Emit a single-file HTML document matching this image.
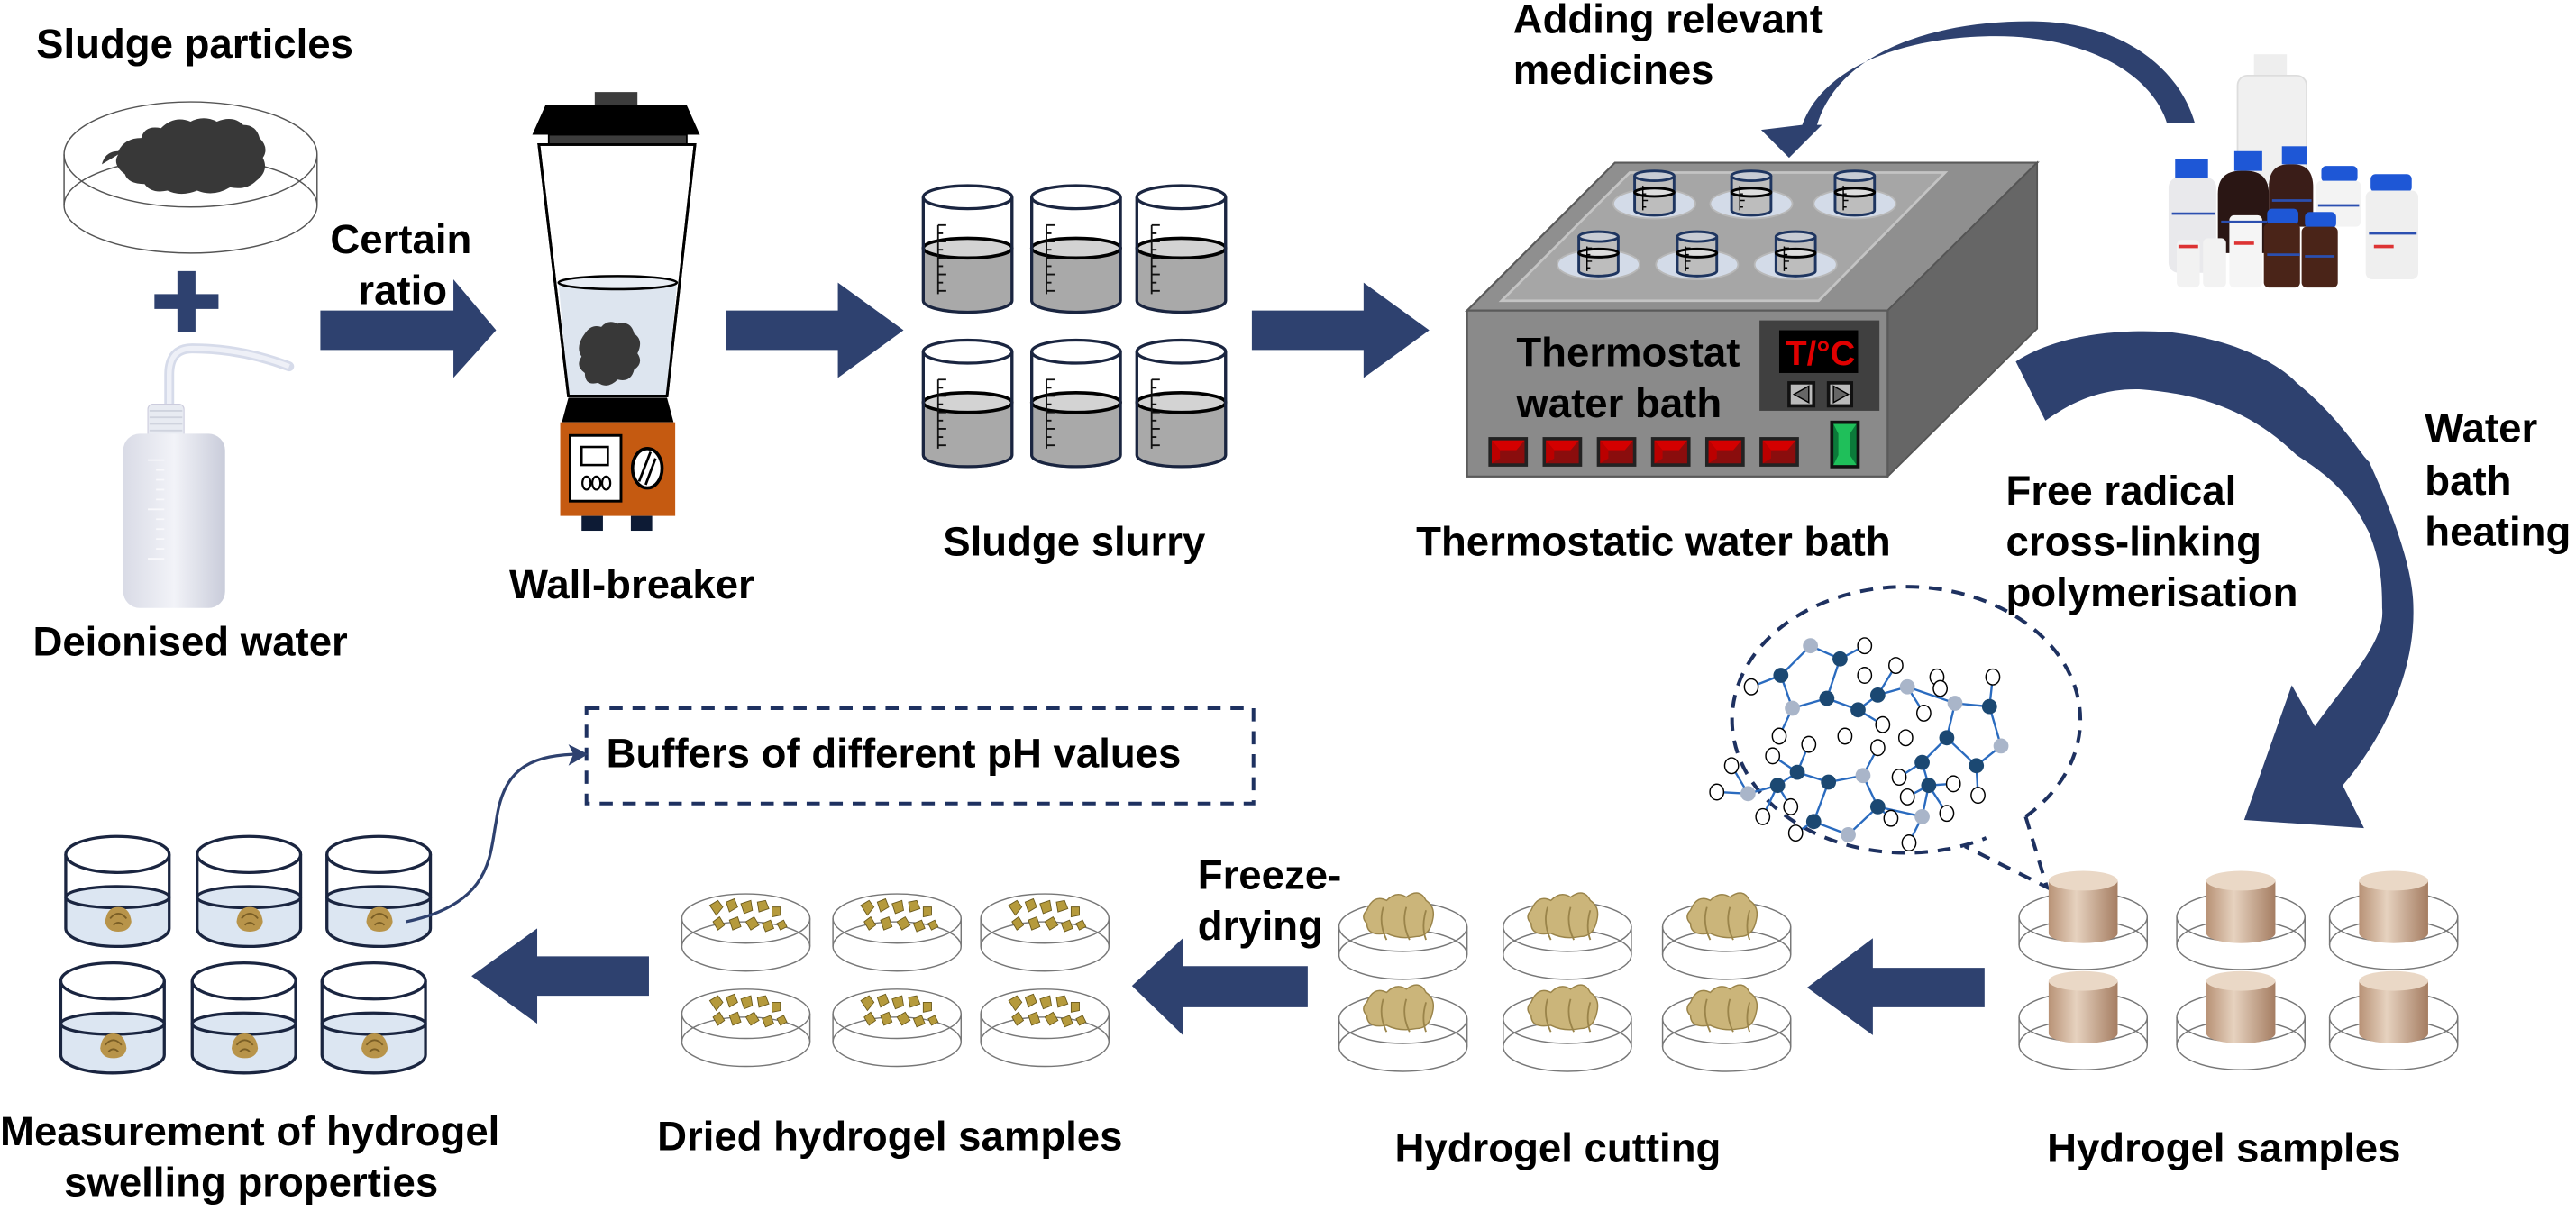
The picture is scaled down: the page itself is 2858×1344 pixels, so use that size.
<!DOCTYPE html>
<html><head><meta charset="utf-8"><style>
html,body{margin:0;padding:0;background:#fff;}
svg{display:block;}
text{font-family:"Liberation Sans",Arial,sans-serif;font-weight:bold;font-size:25px;fill:#000;}
</style></head><body>
<svg width="2858" height="1344" viewBox="0 0 1568 737" preserveAspectRatio="none" xmlns="http://www.w3.org/2000/svg">
<defs>
<linearGradient id="cyl" x1="0" x2="1"><stop offset="0" stop-color="#b89276"/><stop offset="0.4" stop-color="#e6d2bf"/><stop offset="1" stop-color="#a57d62"/></linearGradient>
<linearGradient id="bot" x1="0" x2="1"><stop offset="0" stop-color="#d9dbe6"/><stop offset="0.5" stop-color="#f2f3f8"/><stop offset="1" stop-color="#c9ccda"/></linearGradient>
<!-- slurry beaker 54x77 -->
<g id="sb">
<path d="M0 7 V70 A27 7 0 0 0 54 70 V7" fill="#fff" stroke="#1a2540" stroke-width="1.6"/>
<path d="M0 38 V70 A27 7 0 0 0 54 70 V38 Z" fill="#a9a9a9"/>
<ellipse cx="27" cy="38" rx="27" ry="6" fill="#d3d3d3" stroke="#000" stroke-width="2"/>
<path d="M0 7 V70 A27 7 0 0 0 54 70 V7" fill="none" stroke="#1a2540" stroke-width="1.8"/>
<ellipse cx="27" cy="7" rx="27" ry="7" fill="none" stroke="#1a2540" stroke-width="1.8"/>
<path d="M9 24h5M9 29h3M9 34h5M9 39h3M9 44h5M9 49h3M9 54h5M9 59h3M9 64h5M9 24V66" stroke="#111" stroke-width="1"/>
</g>
<!-- swelling beaker 63x67 -->
<g id="wb">
<path d="M0 37 V56 A31.5 11 0 0 0 63 56 V37 Z" fill="#dce6f2"/>
<ellipse cx="31.5" cy="37" rx="31.5" ry="6.5" fill="#dce6f2" stroke="#1a2540" stroke-width="1.8"/>
<path d="M0 11 V56 A31.5 11 0 0 0 63 56 V11" fill="none" stroke="#1a2540" stroke-width="1.8"/>
<ellipse cx="31.5" cy="11" rx="31.5" ry="11" fill="none" stroke="#1a2540" stroke-width="1.8"/>
<path d="M24 52 q1 -9 8 -9 q7 0 8 9 q-1 6 -8 6 q-7 0 -8 -6z" fill="#b8944a"/>
<path d="M27 50 q5 -6 10 0 M29 54 q3-3 6 0" stroke="#7a5e25" fill="none" stroke-width="1"/>
</g>
<!-- dish: origin = top ellipse center -->
<g id="dish" fill="none" stroke="#777" stroke-width="0.8">
<ellipse cx="0" cy="17" rx="39" ry="15"/>
<ellipse cx="0" cy="0" rx="39" ry="15"/>
<path d="M-39 0V17M39 0V17"/>
</g>
<g id="dried">
<use href="#dish"/>
<g fill="#b59a3c" stroke="#6b5a1c" stroke-width="0.5">
<path d="M-22 -8l5 -3 3 4 -4 5z"/><path d="M-12 -10l5 -2 2 5 -5 3z"/><path d="M-3 -9l6 -2 1 6 -5 2z"/><path d="M7 -10l5 -1 2 5 -6 2z"/><path d="M16 -7l5 0 0 5 -5 1z"/>
<path d="M-20 2l4 -3 3 5 -4 3z"/><path d="M-10 1l5 -2 2 6 -5 2z"/><path d="M0 2l5 -3 3 5 -5 3z"/><path d="M10 3l5 -2 2 5 -5 2z"/><path d="M19 3l4 -2 2 4 -4 2z"/>
</g>
</g>
<g id="cut">
<use href="#dish"/>
<path d="M-22 -10 q4 -10 12 -6 q6 -6 12 -2 q8 -6 12 2 q6 4 4 12 q-2 10 -10 10 q-10 2 -18 -2 q-12 2 -12 -6 q-4 -4 0 -8z" fill="#cbb57a" stroke="#9a844a" stroke-width="0.8"/>
<path d="M-12 -12 q-3 10 2 20 M2 -12 q-3 10 2 20 M14 -10 q-3 10 0 18" stroke="#9a844a" fill="none" stroke-width="1"/>
</g>
<g id="gel">
<use href="#dish"/>
<path d="M-21 -22 V10 A21 6 0 0 0 21 10 V-22 Z" fill="url(#cyl)"/>
<ellipse cx="0" cy="-22" rx="21" ry="6" fill="#ead8c6"/>
</g>
<!-- small beaker on bath -->
<g id="tb">
<ellipse cx="0" cy="20" rx="25" ry="9" fill="#d3dbe8" stroke="#b8b8b8" stroke-width="1"/>
<path d="M-12 3V24A12 3 0 0 0 12 24V3" fill="#bdbdbd" stroke="#1e3560" stroke-width="1.6"/>
<ellipse cx="0" cy="3" rx="12" ry="3" fill="#c8ccd4" stroke="#1e3560" stroke-width="1.6"/>
<ellipse cx="0" cy="13" rx="12" ry="2.5" fill="#ddd" stroke="#000" stroke-width="1.6"/>
<path d="M-7 9V24M-7 10h3M-7 14h2M-7 18h3M-7 22h2" stroke="#000" stroke-width="0.8"/>
</g>
<g id="rb">
<rect x="0" y="0" width="24" height="18" fill="#222"/>
<rect x="2" y="2" width="20" height="14" fill="#8a0d0d"/>
<path d="M2 2h20l-5 6h-10z" fill="#d40000"/>
<path d="M2 2l5 6v5l-5 3z" fill="#b00"/>
</g>
<g id="n"><circle r="4.6" fill="#1b4872"/></g>
<g id="l"><circle r="4.6" fill="#a9b5c9"/></g>
<g id="w"><ellipse rx="4.2" ry="4.8" fill="#fff" stroke="#000" stroke-width="0.8"/></g>
</defs>

<!-- ===== Top row ===== -->
<text x="22" y="35">Sludge particles</text>
<!-- dish with sludge -->
<g fill="none" stroke="#555" stroke-width="0.8">
<ellipse cx="116" cy="125" rx="77" ry="29"/>
<path d="M39 94V125M193 94V125"/>
</g>
<path d="M62 100 q2-8 10-8 q4-8 14-8 q2-8 12-6 q8-8 18-4 q8-4 16 0 q10-4 16 2 q8 0 10 8 q6 6 2 12 q4 8-4 14 q-6 6-16 4 q-10 6-20 2 q-10 4-18 0 q-10 2-14-4 q-10 0-12-6 q-8 -6 -4-12z" fill="#383838"/>
<ellipse cx="116" cy="94" rx="77" ry="32" fill="none" stroke="#555" stroke-width="0.8"/>
<path d="M108 165h11v37h-11z M94 179h39v9h-39z" fill="#2e416f"/>
<!-- wash bottle -->
<path d="M103 252 V228 q0-16 14-16 q30 0 59 11" fill="none" stroke="#d6dbea" stroke-width="6" stroke-linecap="round"/>
<path d="M103 252 V228 q0-16 14-16 q30 0 59 11" fill="none" stroke="#eef0f7" stroke-width="3"/>
<rect x="90" y="246" width="22" height="22" rx="3" fill="#e8ebf2" stroke="#ccd" stroke-width="0.6"/>
<path d="M91 250h20M91 254h20M91 258h20M91 262h20" stroke="#cfd3de" stroke-width="1"/>
<rect x="75" y="264" width="62" height="106" rx="10" fill="url(#bot)"/>
<path d="M90 280h10M95 286h5M95 292h5M95 298h5M95 304h5M90 310h10M95 316h5M95 322h5M95 328h5M95 334h5M90 340h10" stroke="#f8f8fb" stroke-width="1"/>
<text x="20" y="399">Deionised water</text>

<!-- certain ratio + arrow1 -->
<text x="201" y="154">Certain</text>
<text x="218" y="185">ratio</text>
<path d="M195 189H276V170L302 201L276 230V213H195Z" fill="#2e416f"/>

<!-- blender -->
<rect x="362" y="56" width="26" height="9" fill="#3c3c3c"/>
<path d="M332 64H418L426 82H324Z" fill="#000"/>
<rect x="334" y="82" width="84" height="6" fill="#3c3c3c" stroke="#000" stroke-width="1"/>
<path d="M328 88H423L406 241H346Z" fill="#fff" stroke="#000" stroke-width="1.6"/>
<path d="M340 172H412L406 241H346Z" fill="#dde5ef"/>
<ellipse cx="376" cy="172" rx="36" ry="4" fill="#e8edf4" stroke="#000" stroke-width="1.4"/>
<path d="M328 88H423L406 241H346Z" fill="none" stroke="#000" stroke-width="1.6"/>
<path d="M356 203 q4-6 10-4 q4-5 10-2 q8-2 10 6 q6 4 2 12 q4 6-2 10 q-2 8-10 6 q-6 6-12 2 q-8 2-8-6 q-6-4-2-10 q-4-6 2-14z" fill="#383838"/>
<path d="M346 242H406L410 257H342Z" fill="#000"/>
<rect x="341" y="257" width="70" height="57" fill="#c55a11"/>
<rect x="347" y="265" width="31" height="40" fill="#fff" stroke="#000" stroke-width="1.6"/>
<rect x="354" y="272" width="16" height="11" fill="#fff" stroke="#000" stroke-width="1.4"/>
<ellipse cx="357" cy="294" rx="2.5" ry="4" fill="none" stroke="#000" stroke-width="1.2"/>
<ellipse cx="363" cy="294" rx="2.5" ry="4" fill="none" stroke="#000" stroke-width="1.2"/>
<ellipse cx="369" cy="294" rx="2.5" ry="4" fill="none" stroke="#000" stroke-width="1.2"/>
<ellipse cx="394" cy="285" rx="9" ry="12" fill="#fff" stroke="#000" stroke-width="2"/>
<path d="M389 293L396 275M393 295L399 279" stroke="#000" stroke-width="1.5"/>
<rect x="354" y="314" width="13" height="9" fill="#0d1b35"/>
<rect x="384" y="314" width="13" height="9" fill="#0d1b35"/>
<text x="310" y="364">Wall-breaker</text>

<!-- arrow2 -->
<path d="M442 189H510V172L550 201L510 230V213H442Z" fill="#2e416f"/>
<!-- slurry beakers -->
<use href="#sb" x="562" y="113"/><use href="#sb" x="628" y="113"/><use href="#sb" x="692" y="113"/>
<use href="#sb" x="562" y="207"/><use href="#sb" x="628" y="207"/><use href="#sb" x="692" y="207"/>
<text x="574" y="338">Sludge slurry</text>
<!-- arrow3 -->
<path d="M762 189H830V172L870 201L830 230V213H762Z" fill="#2e416f"/>

<!-- water bath -->
<path d="M893 189L983 99H1240L1149 189Z" fill="#8f8f8f" stroke="#5a5a5a" stroke-width="1.2"/>
<path d="M992 105H1184L1107 183H914Z" fill="#a6a6a6" stroke="#c4c4c4" stroke-width="1.5"/>
<path d="M1149 189L1240 99V200L1149 290Z" fill="#666" stroke="#555" stroke-width="1"/>
<rect x="893" y="189" width="256" height="101" fill="#8a8a8a" stroke="#5a5a5a" stroke-width="1.2"/>
<use href="#tb" x="1007" y="104"/><use href="#tb" x="1066" y="104"/><use href="#tb" x="1129" y="104"/>
<use href="#tb" x="973" y="141"/><use href="#tb" x="1033" y="141"/><use href="#tb" x="1093" y="141"/>
<text x="923" y="223">Thermostat</text>
<text x="923" y="254">water bath</text>
<rect x="1071" y="195" width="73" height="55" fill="#404040"/>
<rect x="1083" y="201" width="48" height="26" fill="#000"/>
<text x="1087" y="222" style="fill:#e00000;font-size:21px">T/°C</text>
<rect x="1088" y="232" width="17" height="16" fill="#111"/><rect x="1090" y="234" width="13" height="12" fill="#bbb"/>
<path d="M1101 235L1092 240L1101 245Z" fill="#666" stroke="#000" stroke-width="0.8"/>
<rect x="1112" y="232" width="16" height="16" fill="#111"/><rect x="1114" y="234" width="12" height="12" fill="#bbb"/>
<path d="M1116 235L1125 240L1116 245Z" fill="#666" stroke="#000" stroke-width="0.8"/>
<use href="#rb" x="906" y="266"/><use href="#rb" x="939" y="266"/><use href="#rb" x="972" y="266"/>
<use href="#rb" x="1005" y="266"/><use href="#rb" x="1038" y="266"/><use href="#rb" x="1071" y="266"/>
<rect x="1114" y="256" width="18" height="29" fill="#111"/>
<rect x="1116" y="258" width="14" height="25" fill="#0b7a3a"/>
<path d="M1116 258h14l-4 6v13l4 6h-14l3-6v-13z" fill="#1fbf5a"/>
<text x="862" y="338">Thermostatic water bath</text>

<text x="921" y="20">Adding relevant</text>
<text x="921" y="51">medicines</text>
<!-- medicine arrow -->
<path d="M1336 75 C1326 40 1290 14 1240 13 C1180 12 1120 30 1106 76 L1109 76 L1089 96 L1072 79 L1097 76 C1110 40 1160 22 1215 22 C1270 22 1310 45 1319 75 Z" fill="#2e416f"/>

<!-- bottles -->
<g>
<rect x="1372" y="33" width="20" height="14" fill="#eee"/>
<rect x="1362" y="46" width="42" height="66" rx="6" fill="#f0f0f0" stroke="#ddd"/>
<rect x="1324" y="97" width="20" height="12" fill="#1e57d6"/>
<rect x="1320" y="108" width="29" height="58" rx="6" fill="#e9e9ec"/>
<rect x="1360" y="92" width="17" height="12" fill="#1e57d6"/>
<path d="M1350 118q0-14 14-14h3q14 0 14 14v36h-31z" fill="#2a1614"/>
<rect x="1389" y="89" width="15" height="11" fill="#1e57d6"/>
<path d="M1381 114q0-14 12-14h3q12 0 12 14v24h-27z" fill="#3a1d18"/>
<rect x="1413" y="101" width="22" height="10" rx="3" fill="#1e57d6"/>
<rect x="1410" y="110" width="27" height="28" rx="3" fill="#f3f3f3"/>
<rect x="1443" y="106" width="25" height="11" rx="3" fill="#1e57d6"/>
<rect x="1440" y="116" width="32" height="54" rx="4" fill="#efefef"/>
<rect x="1325" y="146" width="14" height="29" rx="3" fill="#f2f2f2"/>
<rect x="1341" y="145" width="14" height="30" rx="3" fill="#f2f2f2"/>
<rect x="1357" y="131" width="20" height="44" rx="3" fill="#f5f5f5"/>
<rect x="1380" y="127" width="19" height="10" rx="3" fill="#1e57d6"/>
<rect x="1378" y="136" width="22" height="39" rx="3" fill="#4a2418"/>
<rect x="1403" y="129" width="19" height="10" rx="3" fill="#1e57d6"/>
<rect x="1401" y="138" width="22" height="37" rx="3" fill="#4a2418"/>
<path d="M1322 130h26M1352 135h28M1383 122h24M1411 125h25M1442 142h29M1380 155h20M1403 156h18" stroke="#2b4fb0" stroke-width="1.5"/>
<path d="M1326 150h12M1360 148h12M1445 150h12" stroke="#d33" stroke-width="2"/>
</g>

<!-- big curved arrow -->
<path d="M1227 220 C1250 205 1285 200 1319 202 C1360 206 1388 222 1398 233 C1425 255 1438 278 1442 281 C1460 320 1469 350 1469 370 C1470 410 1450 450 1426 478 L1439 504 L1366 499 L1395 417 L1409 442 C1432 410 1452 390 1450 370 C1450 350 1448 340 1442 324 C1430 300 1418 290 1398 277 C1370 250 1340 240 1304 237 C1280 236 1262 244 1245 256 Z" fill="#2e416f"/>
<text x="1476" y="269">Water</text>
<text x="1476" y="301">bath</text>
<text x="1476" y="332">heating</text>
<text x="1221" y="307">Free radical</text>
<text x="1221" y="338">cross-linking</text>
<text x="1221" y="369">polymerisation</text>

<!-- ===== Bottom row ===== -->
<!-- bubble -->
<path d="M1233 497 A106 81 0 1 0 1209 510" fill="none" stroke="#1e3160" stroke-width="2.2" stroke-dasharray="8 6"/>
<path d="M1233 497 L1246 540 L1196 515" fill="none" stroke="#1e3160" stroke-width="2.2" stroke-dasharray="8 6"/>
<g stroke="#2a6bbf" stroke-width="1.3" fill="none">
<path d="M1102 393L1120 401L1112 425L1091 431L1084 411L1102 393M1084 411L1066 418M1120 401L1135 393M1112 425L1131 432L1143 423L1161 418L1190 428L1211 430L1218 454L1203 466L1185 449L1190 428M1131 432L1146 441M1143 423L1154 405M1161 418L1171 434M1185 449L1170 464L1174 478L1161 485M1170 464L1156 473M1203 466L1204 484M1211 430L1213 412M1091 431L1083 448M1094 470L1113 476L1134 472L1143 455M1094 470L1082 478L1064 483L1045 482M1064 483L1054 466M1094 470L1079 460M1082 478L1073 497M1082 478L1090 491M1113 476L1104 500L1125 508L1143 491L1134 472M1104 500L1093 507M1143 491L1151 498M1143 491L1170 497L1174 478L1189 477M1170 497L1162 513M1174 478L1185 495M1094 470L1101 453"/>
</g>
<use href="#w" x="1135" y="393"/><use href="#w" x="1154" y="405"/><use href="#w" x="1066" y="418"/><use href="#w" x="1135" y="411"/><use href="#w" x="1179" y="412"/><use href="#w" x="1213" y="412"/><use href="#w" x="1181" y="419"/><use href="#w" x="1171" y="434"/><use href="#w" x="1146" y="441"/><use href="#w" x="1083" y="448"/><use href="#w" x="1123" y="448"/><use href="#w" x="1160" y="449"/><use href="#w" x="1101" y="453"/><use href="#w" x="1143" y="455"/><use href="#w" x="1079" y="460"/><use href="#w" x="1054" y="466"/><use href="#w" x="1156" y="473"/><use href="#w" x="1189" y="477"/><use href="#w" x="1045" y="482"/><use href="#w" x="1204" y="484"/><use href="#w" x="1090" y="491"/><use href="#w" x="1161" y="485"/><use href="#w" x="1073" y="497"/><use href="#w" x="1185" y="495"/><use href="#w" x="1151" y="498"/><use href="#w" x="1093" y="507"/><use href="#w" x="1162" y="513"/>
<use href="#l" x="1102" y="393"/><use href="#l" x="1091" y="431"/><use href="#l" x="1161" y="418"/><use href="#l" x="1190" y="428"/><use href="#l" x="1218" y="454"/><use href="#l" x="1134" y="472"/><use href="#l" x="1064" y="483"/><use href="#l" x="1170" y="497"/><use href="#l" x="1125" y="508"/>
<use href="#n" x="1084" y="411"/><use href="#n" x="1120" y="401"/><use href="#n" x="1112" y="425"/><use href="#n" x="1143" y="423"/><use href="#n" x="1131" y="432"/><use href="#n" x="1211" y="430"/><use href="#n" x="1185" y="449"/><use href="#n" x="1170" y="464"/><use href="#n" x="1203" y="466"/><use href="#n" x="1094" y="470"/><use href="#n" x="1113" y="476"/><use href="#n" x="1082" y="478"/><use href="#n" x="1174" y="478"/><use href="#n" x="1143" y="491"/><use href="#n" x="1104" y="500"/>

<!-- hydrogel samples -->
<use href="#gel" x="1268" y="558"/><use href="#gel" x="1364" y="558"/><use href="#gel" x="1457" y="558"/>
<use href="#gel" x="1268" y="619"/><use href="#gel" x="1364" y="619"/><use href="#gel" x="1457" y="619"/>
<text x="1246" y="707">Hydrogel samples</text>
<!-- arrow -->
<path d="M1208 589H1140V571L1100 601L1140 630V613H1208Z" fill="#2e416f"/>
<!-- cut -->
<use href="#cut" x="854" y="564"/><use href="#cut" x="954" y="564"/><use href="#cut" x="1051" y="564"/>
<use href="#cut" x="854" y="620"/><use href="#cut" x="954" y="620"/><use href="#cut" x="1051" y="620"/>
<text x="849" y="707">Hydrogel cutting</text>
<text x="729" y="541">Freeze-</text>
<text x="729" y="572">drying</text>
<path d="M796 588H720V571L689 600L720 630V613H796Z" fill="#2e416f"/>
<!-- dried -->
<use href="#dried" x="454" y="559"/><use href="#dried" x="546" y="559"/><use href="#dried" x="636" y="559"/>
<use href="#dried" x="454" y="617"/><use href="#dried" x="546" y="617"/><use href="#dried" x="636" y="617"/>
<text x="400" y="700">Dried hydrogel samples</text>
<path d="M395 582H327V565L287 594L327 623V606H395Z" fill="#2e416f"/>
<!-- swelling beakers -->
<use href="#wb" x="40" y="509"/><use href="#wb" x="120" y="509"/><use href="#wb" x="199" y="509"/>
<use href="#wb" x="37" y="586"/><use href="#wb" x="117" y="586"/><use href="#wb" x="196" y="586"/>
<text x="0" y="697">Measurement of hydrogel</text>
<text x="39" y="728">swelling properties</text>
<!-- buffers box -->
<rect x="357" y="431" width="406" height="58" fill="none" stroke="#1e3160" stroke-width="2.2" stroke-dasharray="8 6"/>
<text x="369" y="467">Buffers of different pH values</text>
<path d="M247 561 C300 550 298 520 302 500 C306 470 320 460 350 459" fill="none" stroke="#2e416f" stroke-width="1.8"/>
<path d="M358 459L346 453L349 459L346 466Z" fill="#2e416f"/>
</svg>
</body></html>
